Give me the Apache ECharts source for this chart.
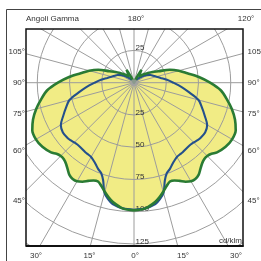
<!DOCTYPE html>
<html><head><meta charset="utf-8">
<script src="https://cdn.jsdelivr.net/npm/echarts@6/dist/echarts.min.js"></script>
<style>html,body{margin:0;padding:0;background:#fff}#c{width:261px;height:261px}</style>
</head><body><div id="c"></div>
<script>
// gamma angles (deg from nadir) and luminous intensity (cd/klm)
const gammaAngles = [0,5,10,12.5,15,17.5,20,22.5,25,27.5,30,32.5,35,37.5,40,42.5,45,47.5,50,55,60,65,70,75,80,85,90,95,100,105,110,115,120,125,130,135,140,145,150,152.5,155,160,170,180];
const planeGreen  = [99,98,94,91,87.5,84,81.5,82,84,86.5,88.3,88.5,87.3,84.5,82,80.5,80.3,81.5,84,86.7,87.8,87,83.3,78.5,73,67.5,59,50.5,42,36,29.5,21,16.5,13,10.5,8,6.5,7.5,11.5,6,2,0,0,0];
const planeBlue   = [98.5,97.8,95.5,92.5,88.5,79.5,74.5,72.5,70,68,66.5,66,65.8,65.3,65,65,65.5,66.3,67,67.3,65.5,60.5,56,51.8,43.5,36.8,30.5,25.6,21,18,15.8,14,11.8,9.3,6.5,4.5,3,2,1,0.7,0.5,0,0,0];
const radiusTicks = [25,50,75,100,125];
const topLabels = ['Angoli Gamma','180°','120°'];
const sideLabels = ['105°','90°','75°','60°','45°'];
const bottomLabels = ['30°','15°','0°','15°','30°'];
const unitLabel = 'cd/klm';

function closedCurve(vals){
  const pts=[];
  for(let i=0;i<gammaAngles.length;i++) pts.push([vals[i], gammaAngles[i]]);
  for(let i=gammaAngles.length-2;i>=0;i--) pts.push([vals[i], 360-gammaAngles[i]]);
  return pts;
}
const greenPts = closedCurve(planeGreen);
const bluePts = closedCurve(planeBlue);

const chart = echarts.init(document.getElementById('c'), null, {renderer:'canvas'});
const GRID = '#9c9c9c';
chart.setOption({
  animation:false,
  polar:{center:[134,82.7], radius:193.5},
  angleAxis:{type:'value', min:0, max:360, interval:15, startAngle:270, clockwise:true,
    axisLine:{show:true, lineStyle:{color:GRID, width:1}}, axisTick:{show:false}, axisLabel:{show:false},
    splitLine:{show:true, lineStyle:{color:GRID, width:1}}},
  radiusAxis:{type:'value', min:0, max:150, interval:25,
    axisLine:{show:false}, axisTick:{show:false}, axisLabel:{show:false},
    splitLine:{show:true, lineStyle:{color:GRID, width:1}}},
  series:[
    {type:'line', coordinateSystem:'polar', data:greenPts, smooth:0.3, symbol:'none', z:-1, silent:true,
      lineStyle:{width:0, opacity:0}, areaStyle:{color:'#f1ec85', opacity:1}},
    {type:'line', coordinateSystem:'polar', data:bluePts, smooth:0.3, symbol:'none', z:3, silent:true,
      lineStyle:{color:'#24508c', width:2.1}},
    {type:'line', coordinateSystem:'polar', data:greenPts, smooth:0.3, symbol:'none', z:4, silent:true,
      lineStyle:{color:'#2a7b34', width:2.6}},
    {type:'scatter', coordinateSystem:'polar', data:[[0,0]], symbolSize:7, z:5, silent:true,
      itemStyle:{color:'#a3a3a3'}}
  ]
});

function px(r, a){
  let p = null;
  try { p = chart.convertToPixel({seriesIndex:1}, [r, a]); } catch(e) { p = null; }
  if(!p || isNaN(p[0])){
    const k = 193.5/150, rad = (270 - a) * Math.PI/180;
    p = [134 + r*k*Math.cos(rad), 82.7 - r*k*Math.sin(rad)];
  }
  return p;
}
const FONT = '8px "Liberation Sans", Arial, sans-serif';
const TXT = '#333';
const g = [];
radiusTicks.forEach(r=>{
  const p = px(r, 0);
  g.push({type:'text', x:p[0]+1.5, y:p[1]-2.5, z:2, silent:true, style:{text:String(r), fill:TXT, font:FONT, align:'left', verticalAlign:'middle'}});
});
{ const p = px(radiusTicks[0], 180);
  g.push({type:'text', x:p[0]+1.5, y:p[1]-3, z:2, silent:true, style:{text:String(radiusTicks[0]), fill:TXT, font:FONT, align:'left', verticalAlign:'middle'}}); }
const mask = {fill:'#fff'};
g.push({type:'rect', z:100, silent:true, shape:{x:0,y:0,width:261,height:29}, style:mask});
g.push({type:'rect', z:100, silent:true, shape:{x:0,y:0,width:26,height:261}, style:mask});
g.push({type:'rect', z:100, silent:true, shape:{x:243,y:0,width:18,height:261}, style:mask});
g.push({type:'rect', z:100, silent:true, shape:{x:0,y:246,width:261,height:15}, style:mask});
g.push({type:'rect', z:101, silent:true, shape:{x:26,y:29,width:217,height:217}, style:{fill:null, stroke:'#111', lineWidth:1.5}});
g.push({type:'line', z:101, silent:true, shape:{x1:26,y1:246,x2:243.5,y2:246}, style:{stroke:'#111', lineWidth:2}});
g.push({type:'polyline', z:101, silent:true, shape:{points:[[6.5,261],[6.5,9.5],[261,9.5]]}, style:{fill:null, stroke:'#444', lineWidth:1}});
const t = (s,x,y,al)=>g.push({type:'text', z:102, silent:true, x:x, y:y, style:{text:s, fill:TXT, font:FONT, align:al, verticalAlign:'middle'}});
t(topLabels[0], 26, 19, 'left');
t(topLabels[1], 136, 19, 'center');
t(topLabels[2], 246, 19, 'center');
const sideY = [52, 83, 114, 151, 201];
sideLabels.forEach((s,i)=>{ t(s, 25, sideY[i], 'right'); t(s, 247.5, sideY[i], 'left'); });
const botX = [36, 89.5, 135, 183, 236];
bottomLabels.forEach((s,i)=>t(s, botX[i], 256, 'center'));
t(unitLabel, 242, 241, 'right');
chart.setOption({graphic:{elements:g}});
</script></body></html>
